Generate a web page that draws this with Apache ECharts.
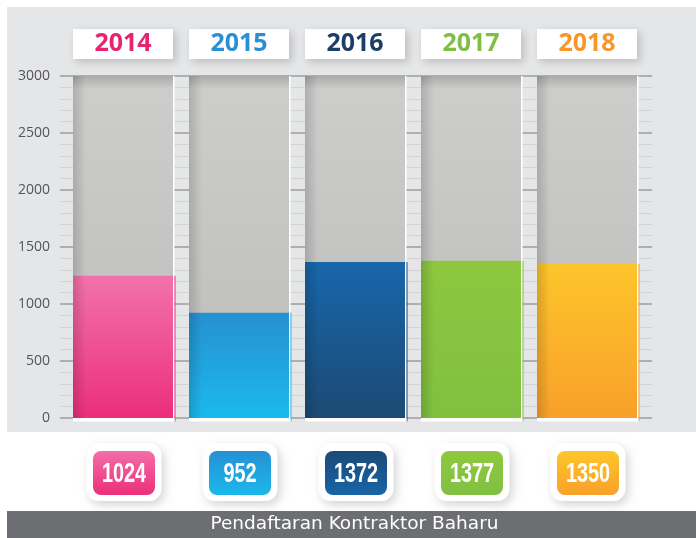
<!DOCTYPE html>
<html><head><meta charset="utf-8">
<script src="https://cdn.jsdelivr.net/npm/echarts@6/dist/echarts.min.js"></script>
<style>html,body{margin:0;padding:0;background:#fff}#c{width:696px;height:538px}</style>
</head><body><div id="c"></div>
<script>
// ---- data ----
const years = ['2014', '2015', '2016', '2017', '2018'];
const barLevels = [1248, 924, 1368, 1380, 1351];      // bar heights as drawn
const badgeValues = [1024, 952, 1372, 1377, 1350];    // numbers printed in badges
const yTickValues = [0, 500, 1000, 1500, 2000, 2500, 3000];
const chartTitle = 'Pendaftaran Kontraktor Baharu';

// ---- styles ----
const yearColors = ['#e8236f', '#2b8fd3', '#1b3f66', '#7ebf43', '#f7972a'];
const barTop = ['#f272aa', '#2690d2', '#1866aa', '#8dc73f', '#fdc52b'];
const barBottom = ['#ec2e7b', '#1bb9ec', '#1c4a74', '#80c040', '#f8a02a'];
const badgeTop = ['#f36ea7', '#2690d3', '#1b4a76', '#8fc83f', '#fec62b'];
const badgeBottom = ['#ec2f7b', '#1bb8ec', '#1865a8', '#80c042', '#f9a02a'];

const yMin = yTickValues[0];
const yMax = yTickValues[yTickValues.length - 1];
const yStep = yTickValues[1] - yTickValues[0];
const BAR_W = 100;

function vgrad(a, b) { return new echarts.graphic.LinearGradient(0, 0, 0, 1, [{offset: 0, color: a}, {offset: 1, color: b}]); }
function hgrad(a, b) { return new echarts.graphic.LinearGradient(0, 0, 1, 0, [{offset: 0, color: a}, {offset: 1, color: b}]); }

const chart = echarts.init(document.getElementById('c'), null, {renderer: 'canvas'});

const option = {
  backgroundColor: '#ffffff',
  animation: false,
  graphic: [
    {type: 'rect', z: -10, shape: {x: 7, y: 7, width: 689, height: 425}, style: {fill: '#e5e6e8'}},
    {type: 'rect', z: -10, shape: {x: 7, y: 511, width: 689, height: 27}, style: {fill: '#6d6e71'}},
    {type: 'text', z: 10, x: 354.5, y: 525, scaleX: 1.09,
      style: {text: chartTitle, fill: '#ffffff', fontFamily: 'DejaVu Sans', fontSize: 17,
        align: 'center', verticalAlign: 'middle'}}
  ],
  grid: [
    {left: 60, right: 44, top: 76, bottom: 120},   // ruler grid
    {left: 65, right: 51, top: 76, bottom: 120}    // bars grid
  ],
  xAxis: [
    {gridIndex: 0, type: 'value', min: 0, max: 1, show: false},
    {gridIndex: 1, type: 'category', data: years, position: 'top',
      axisLine: {show: false}, axisTick: {show: false}, splitLine: {show: false},
      axisLabel: {
        margin: 17,
        color: (v, i) => yearColors[years.indexOf(v)],
        fontFamily: 'Open Sans', fontWeight: 'bold', fontSize: 25,
        backgroundColor: '#ffffff', width: 100, height: 30, lineHeight: 30, align: 'center',
        shadowColor: 'rgba(0,0,0,0.18)', shadowBlur: 8, shadowOffsetX: 3, shadowOffsetY: 3
      }}
  ],
  yAxis: [
    {gridIndex: 0, type: 'value', min: yMin, max: yMax, interval: yStep,
      axisLine: {show: false}, axisTick: {show: false},
      axisLabel: {margin: 10, color: '#555555', fontFamily: 'Open Sans', fontSize: 14,
        verticalAlign: 'middle', padding: [0, 0, 6, 0], formatter: v => String(v)},
      splitLine: {show: true, lineStyle: {color: '#9c9c9c', width: 1.5}},
      minorTick: {show: false, splitNumber: 5},
      minorSplitLine: {show: true, lineStyle: {color: '#d2d2d3', width: 1}}},
    {gridIndex: 1, type: 'value', min: yMin, max: yMax, interval: yStep, show: false,
      splitLine: {show: false}}
  ],
  series: [
    {
      name: 'Pendaftaran', type: 'bar', xAxisIndex: 1, yAxisIndex: 1, z: 2,
      barWidth: BAR_W,
      showBackground: true,
      backgroundStyle: {color: vgrad('#cdcdcb', '#bcbdbb')},
      data: barLevels.map((v, i) => ({value: v, itemStyle: {color: vgrad(barTop[i], barBottom[i])}}))
    },
    {
      name: 'deco', type: 'custom', xAxisIndex: 1, yAxisIndex: 1, z: 3, clip: false, silent: true,
      data: barLevels.map((v, i) => [i, v]),
      encode: {x: 0, y: 1},
      renderItem: function (params, api) {
        const i = params.dataIndex;
        const base = api.coord([i, yMin]);
        const top = api.coord([i, yMax]);
        const lvl = api.coord([i, api.value(1)]);
        const x0 = base[0] - BAR_W / 2;
        const h = base[1] - top[1];
        return {type: 'group', children: [
          {type: 'rect', shape: {x: x0, y: top[1], width: BAR_W, height: 13},
            style: {fill: vgrad('rgba(0,0,0,0.17)', 'rgba(0,0,0,0)')}},
          {type: 'rect', shape: {x: x0, y: top[1], width: 13, height: h},
            style: {fill: hgrad('rgba(0,0,0,0.15)', 'rgba(0,0,0,0)')}},
          {type: 'rect', shape: {x: x0 + BAR_W, y: top[1], width: 1.5, height: h + 3.5},
            style: {fill: '#ffffff'}},
          {type: 'rect', shape: {x: x0 + BAR_W + 1.5, y: lvl[1], width: 1, height: base[1] - lvl[1] + 3.5},
            style: {fill: barBottom[i]}},
          {type: 'rect', shape: {x: x0, y: base[1], width: BAR_W + 1.5, height: 3.5},
            style: {fill: '#ffffff'}}
        ]};
      }
    },
    {
      name: 'badges', type: 'custom', xAxisIndex: 1, yAxisIndex: 1, z: 4, clip: false, silent: true,
      data: badgeValues.map((v, i) => [i, v]),
      encode: {x: 0, y: 1},
      renderItem: function (params, api) {
        const i = params.dataIndex;
        const base = api.coord([i, yMin]);
        const cx = base[0] + 1, y0 = base[1];
        return {type: 'group', children: [
          {type: 'rect', shape: {x: cx - 37.5, y: y0 + 25, width: 75, height: 58, r: 12},
            style: {fill: '#ffffff', shadowBlur: 10, shadowOffsetX: 3, shadowOffsetY: 4, shadowColor: 'rgba(0,0,0,0.16)'}},
          {type: 'rect', shape: {x: cx - 31, y: y0 + 33, width: 62, height: 44, r: 8},
            style: {fill: vgrad(badgeTop[i], badgeBottom[i])}},
          {type: 'text', x: cx, y: y0 + 56, scaleX: 0.71,
            style: {text: String(api.value(1)), fill: '#ffffff',
              fontFamily: '"Liberation Sans", Arial, sans-serif',
              fontWeight: 'bold', fontSize: 28, align: 'center', verticalAlign: 'middle'}}
        ]};
      }
    }
  ]
};
chart.setOption(option);
</script>
</body></html>
